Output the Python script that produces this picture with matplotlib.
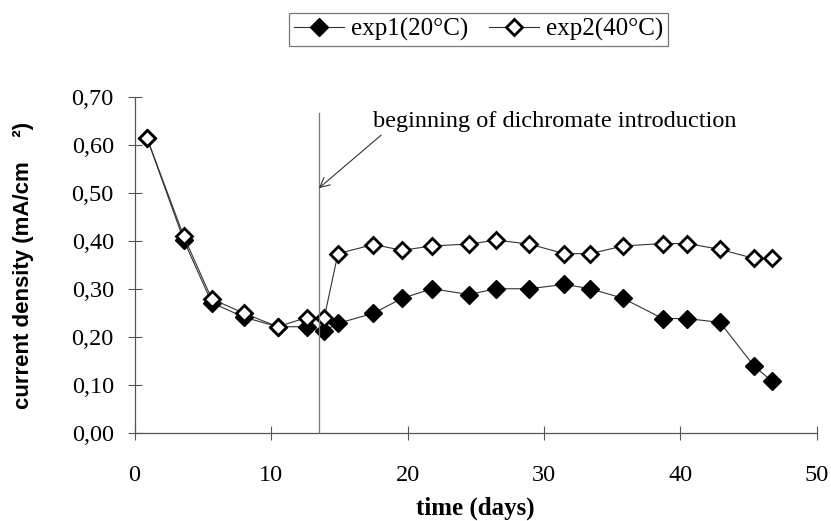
import matplotlib
matplotlib.use("Agg")
from matplotlib import pyplot as plt

# time (days) for both experiments
days = [0.9, 3.6, 5.65, 8.0, 10.5, 12.6, 13.9, 14.9, 17.5, 19.6, 21.8,
        24.5, 26.5, 28.9, 31.5, 33.4, 35.8, 38.7, 40.5, 42.9, 45.4, 46.7]
exp1 = [0.615, 0.402, 0.272, 0.242, 0.222, 0.222, 0.213, 0.229, 0.250, 0.281, 0.301,
        0.289, 0.301, 0.301, 0.310, 0.301, 0.281, 0.239, 0.239, 0.231, 0.140, 0.109]
exp2 = [0.615, 0.410, 0.280, 0.250, 0.222, 0.241, 0.241, 0.374, 0.393, 0.381, 0.390,
        0.394, 0.402, 0.394, 0.374, 0.374, 0.390, 0.395, 0.395, 0.383, 0.364, 0.364]
labels = ["exp1(20°C)", "exp2(40°C)"]
y_ticks = [0.0, 0.1, 0.2, 0.3, 0.4, 0.5, 0.6, 0.7]
y_tick_labels = ["0,00", "0,10", "0,20", "0,30", "0,40", "0,50", "0,60", "0,70"]
x_ticks = [0, 10, 20, 30, 40, 50]
dichromate_day = 13.5

serif = "Liberation Serif"

fig = plt.figure(figsize=(8.31, 5.21), dpi=100)
ax = fig.add_axes([0.162, 0.168, 0.821, 0.646])

ax.plot(days, exp1, color="#333333", lw=0.8, marker="D", ms=9,
        mfc="black", mec="black", label=labels[0])
ax.plot(days, exp2, color="#333333", lw=0.8, marker="D", ms=8,
        mfc="white", mec="black", mew=2.0, label=labels[1])

# beginning of dichromate introduction
ax.plot([dichromate_day, dichromate_day], [0, 0.667], color="#777777", lw=0.9)
ax.annotate("beginning of dichromate introduction",
            xy=(dichromate_day, 0.51), xytext=(17.5, 0.648),
            fontsize=17.5, family=serif, va="center", ha="left",
            arrowprops=dict(arrowstyle="->", color="#333333", lw=0.8,
                            shrinkA=0, shrinkB=0,
                            relpos=(0.03, 0.0)))

ax.set_xlim(0, 50)
ax.set_ylim(0, 0.7)
ax.set_xticks(x_ticks)
ax.set_xticklabels([str(t) for t in x_ticks], family=serif, fontsize=17.5)
ax.set_yticks(y_ticks)
ax.set_yticklabels(y_tick_labels, family=serif, fontsize=17.5)
ax.tick_params(direction="inout", length=10, width=0.8, color="#555555")
ax.tick_params(axis="y", pad=10)
ax.tick_params(axis="x", pad=18)

for side in ["top", "right"]:
    ax.spines[side].set_visible(False)
for side in ["left", "bottom"]:
    ax.spines[side].set_color("#555555")
    ax.spines[side].set_linewidth(0.9)

ax.set_xlabel("time (days)", family=serif, fontweight="bold", fontsize=18, labelpad=7)
ax.set_ylabel("current density (mA/cm    ²)", family="Liberation Sans",
              fontweight="bold", fontsize=16, labelpad=27)

leg = fig.legend(loc="center", bbox_to_anchor=(0.576, 0.944), ncol=2,
                 prop={"family": serif, "size": 18}, frameon=True, fancybox=False,
                 edgecolor="#555555", handlelength=2.0, handletextpad=0.3,
                 columnspacing=0.8, borderpad=0.2)
leg.get_frame().set_linewidth(0.9)

fig.savefig("out.png", dpi=100)
